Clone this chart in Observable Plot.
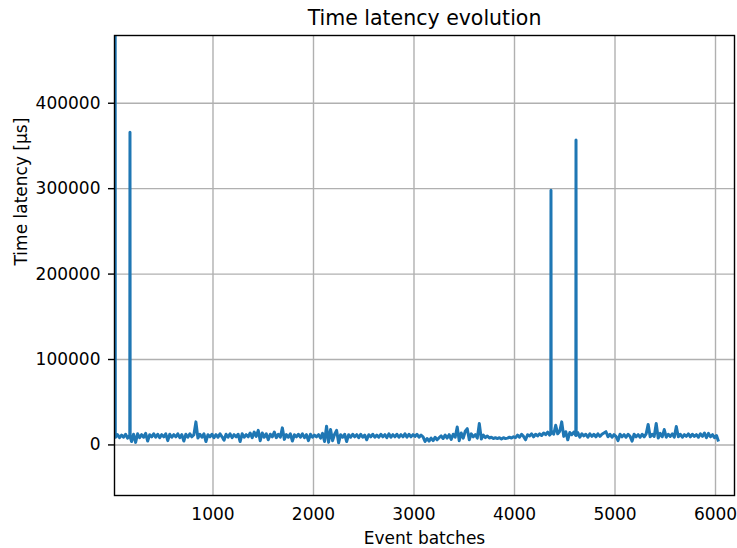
<!DOCTYPE html>
<html>
<head>
<meta charset="utf-8">
<script src="https://cdn.jsdelivr.net/npm/d3@7"></script>
<script src="https://cdn.jsdelivr.net/npm/@observablehq/plot@0.6"></script>
<style>
  html, body { margin: 0; padding: 0; background: #ffffff; }
</style>
</head>
<body>
<div id="chart"></div>
<script>
// ---- Data ----
const titleText = "Time latency evolution";
const xLabel = "Event batches";
const yLabel = "Time latency [µs]";
const xTicks = [1000, 2000, 3000, 4000, 5000, 6000];
const yTicks = [0, 100000, 200000, 300000, 400000];
const xDomain = [20, 6189];
const yDomain = [-59200, 479300];

// Baseline latency, sampled every 20 event batches starting at batch 30
const batchStart = 30;
const batchStep = 20;
const latency = [
  9000, 12000, 8500, 11500, 9000, 12500, 8000, 11000, 4000, 12500,
  3000, 13000, 8500, 12000, 9000, 13500, 4500, 12000, 9500, 13000,
  9000, 12500, 8500, 12000, 9500, 13000, 5000, 12500, 9000, 12000,
  9500, 13000, 8500, 12000, 4500, 12500, 9000, 13000, 9500, 12000,
  27000, 8000, 12500, 9000, 13000, 4000, 12000, 9500, 12500, 8500,
  12000, 9000, 13000, 9500, 5500, 12500, 9000, 13000, 8500, 12000,
  9500, 12500, 4000, 13000, 9000, 12000, 9500, 14000, 8500, 15000,
  10000, 17000, 5000, 14000, 9000, 13000, 6000, 12500, 9500, 15000,
  8500, 12500, 9000, 20000, 6500, 12000, 9000, 13000, 4500, 12000,
  9500, 12500, 9000, 13000, 8500, 12000, 5000, 12500, 9000, 11500,
  9500, 12000, 8000, 13500, 4000, 22000, 3000, 18000, 5000, 12500,
  17000, 2500, 12000, 9000, 12500, 4000, 12000, 9000, 12500, 9500,
  12000, 8500, 12500, 9000, 11500, 6000, 12000, 9500, 12500, 9000,
  11500, 9000, 12500, 9500, 12000, 8500, 13000, 9000, 12000, 9500,
  12500, 9000, 12000, 9500, 13000, 9000, 12500, 9500, 12000, 10000,
  12500, 9000, 11500, 9500, 4000, 7500, 4500, 8000, 5000, 9000,
  6000, 8500, 10500, 7500, 11500, 8000, 12000, 6500, 12500, 9000,
  21000, 5000, 14000, 8000, 16000, 19000, 6000, 13000, 9500, 12000,
  8000, 25000, 7000, 11500, 8500, 10500, 8000, 9000, 7500, 8500,
  7500, 8500, 7000, 8500, 7500, 8000, 9000, 8000, 9500, 8500,
  11500, 9000, 12500, 10000, 6000, 12000, 10500, 13000, 9500, 12500,
  10500, 13000, 11000, 14000, 12000, 15000, 11500, 16000, 12500, 23000,
  13000, 16000, 27000, 10000, 15500, 6000, 14500, 12000, 15000, 11000,
  14500, 9000, 13000, 10500, 12500, 9000, 13000, 10000, 12500, 9500,
  13000, 10000, 12500, 14000, 15500, 9500, 12500, 9000, 12000, 10000,
  5000, 12500, 9500, 12000, 9000, 12500, 10000, 4500, 12500, 9500,
  12000, 9000, 12500, 9500, 13000, 24000, 9500, 12500, 10000, 25000,
  8000, 13500, 9500, 18000, 9000, 12500, 10000, 13000, 9000, 21500,
  9500, 12500, 9000, 12000, 10000, 13000, 9500, 12500, 10000, 12000,
  9000, 13000, 10000, 14000, 8500, 13500, 9500, 12000, 8500, 11000,
  4000
];

// Isolated latency spikes (one-batch wide) with their immediate neighbours
const spikeBatches = [26, 28, 172, 174, 176, 4361, 4363, 4365, 4610, 4612, 4614];
const spikeLatency = [950000, 10000, 10000, 366000, 9500, 13000, 298000, 14000, 12000, 357000, 11000];

const rows = latency.map((v, i) => ({batch: batchStart + i * batchStep, latency: v}))
  .concat(spikeBatches.map((b, i) => ({batch: b, latency: spikeLatency[i]})))
  .sort((a, b) => a.batch - b.batch);

const fontFamily = "'DejaVu Sans', 'Liberation Sans', sans-serif";
const chart = Plot.plot({
  width: 737,
  height: 548,
  marginLeft: 114,
  marginRight: 3,
  marginTop: 35,
  marginBottom: 53,
  style: {fontFamily, fontSize: "17px", color: "#000", background: "#fff", overflow: "visible"},
  x: {domain: xDomain, label: null},
  y: {domain: yDomain, label: null},
  marks: [
    Plot.gridX(xTicks, {stroke: "#b0b0b0", strokeOpacity: 1, strokeWidth: 1.4}),
    Plot.gridY(yTicks, {stroke: "#b0b0b0", strokeOpacity: 1, strokeWidth: 1.4}),
    Plot.line(rows, {x: "batch", y: "latency", stroke: "#1f77b4", strokeWidth: 3, clip: true, strokeLinejoin: "round", strokeLinecap: "butt"}),
    Plot.frame({stroke: "#000", strokeWidth: 1.4}),
    Plot.axisX(xTicks, {tickSize: 0, tickPadding: 12, fontSize: 17, label: null, tickFormat: d3.format("d")}),
    Plot.axisY(yTicks, {tickSize: 6, tickPadding: 8, fontSize: 17, label: null, stroke: "#000", strokeWidth: 1.4, tickFormat: d3.format("d")}),
    Plot.text([titleText], {frameAnchor: "top", dy: -17, fontSize: 20.5, lineAnchor: "middle", fill: "#000"}),
    Plot.text([xLabel], {frameAnchor: "bottom", dy: 43, fontSize: 17, lineAnchor: "middle", fill: "#000"}),
    Plot.text([yLabel], {frameAnchor: "left", dx: -93, rotate: -90, fontSize: 17, lineAnchor: "middle", fill: "#000"})
  ]
});
document.getElementById("chart").appendChild(chart);
</script>
</body>
</html>
